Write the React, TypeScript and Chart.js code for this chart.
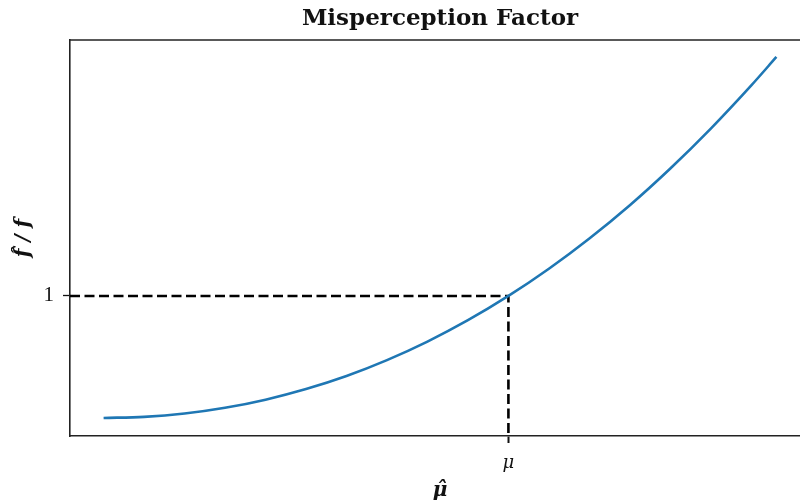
import React, { useEffect, useRef } from "react";
import { Chart, registerables } from "chart.js";

Chart.register(...registerables);

// μ̂ (relative to μ) and f̂/f
const muHat = [0, 0.1, 0.2, 0.3, 0.4, 0.5, 0.6, 0.7, 0.8, 0.9, 1, 1.1, 1.2, 1.3, 1.4, 1.5, 1.6, 1.662];
const ratio = [0, 0.009, 0.036, 0.083, 0.15, 0.237, 0.344, 0.474, 0.626, 0.801, 1, 1.223, 1.471, 1.744, 2.045, 2.372, 2.726, 2.959];

const xTickValues = [1];
const xTickLabels = ["μ"];
const yTickValues = [1];
const yTickLabels = ["1"];
const xLimits = [-0.083, 1.745];
const yLimits = [-0.148, 3.098];
const refPoint = { x: 1, y: 1 };

const titleText = "Misperception Factor";
const xTitle = "μ̂";
const yTitle = "f̂ / f";

const SERIF = "'DejaVu Serif', 'Liberation Serif', serif";

const topSpine = {
  id: "topSpine",
  afterDraw(chart: any) {
    const { ctx, chartArea } = chart;
    ctx.save();
    ctx.strokeStyle = "#222";
    ctx.lineWidth = 1.6;
    ctx.beginPath();
    ctx.moveTo(chartArea.left - 0.8, chartArea.top);
    ctx.lineTo(chartArea.right, chartArea.top);
    ctx.stroke();
    ctx.restore();
  },
};

export default function App() {
  const ref = useRef<HTMLCanvasElement | null>(null);

  useEffect(() => {
    if (!ref.current) return;
    const curve = muHat.map((x, i) => ({ x, y: ratio[i] }));
    const guide = [
      { x: xLimits[0], y: refPoint.y },
      { x: refPoint.x, y: refPoint.y },
      { x: refPoint.x, y: yLimits[0] },
    ];
    const chart = new Chart(ref.current, {
      type: "scatter",
      data: {
        datasets: [
          {
            data: curve,
            showLine: true,
            borderColor: "#1f77b4",
            borderWidth: 2.6,
            pointRadius: 0,
            cubicInterpolationMode: "monotone",
            fill: false,
          } as any,
          {
            data: guide,
            showLine: true,
            borderColor: "#000",
            borderWidth: 2.6,
            borderDash: [10, 4.5],
            pointRadius: 0,
            tension: 0,
            fill: false,
          } as any,
        ],
      },
      options: {
        responsive: false,
        animation: false,
        layout: { padding: { left: 0, right: 0, top: 0, bottom: 0 } },
        plugins: {
          legend: { display: false },
          tooltip: { enabled: false },
          title: {
            display: true,
            text: titleText,
            color: "#111",
            font: { family: SERIF, size: 23, weight: "bold" },
            padding: { top: 5, bottom: 7.4 },
          },
        },
        scales: {
          x: {
            type: "linear",
            min: xLimits[0],
            max: xLimits[1],
            afterFit: (s: any) => {
              s.height = 68;
            },
            afterBuildTicks: (s: any) => {
              s.ticks = xTickValues.map((v) => ({ value: v }));
            },
            ticks: {
              color: "#111",
              font: { family: SERIF, size: 18, style: "italic" },
              padding: 10,
              maxRotation: 0,
              callback: (v: any) => {
                const i = xTickValues.indexOf(Number(v));
                return i >= 0 ? xTickLabels[i] : "";
              },
            },
            grid: {
              display: true,
              drawOnChartArea: false,
              drawTicks: true,
              tickLength: 7,
              tickWidth: 2,
              tickColor: "#111",
            },
            border: { display: true, color: "#222", width: 1.6 },
            title: {
              display: true,
              text: xTitle,
              color: "#111",
              font: { family: SERIF, size: 20, weight: "bold", style: "italic" },
              padding: { top: 0, bottom: 1 },
            },
          },
          y: {
            type: "linear",
            min: yLimits[0],
            max: yLimits[1],
            afterFit: (s: any) => {
              s.width = 70;
            },
            afterBuildTicks: (s: any) => {
              s.ticks = yTickValues.map((v) => ({ value: v }));
            },
            ticks: {
              color: "#111",
              font: { family: "'Liberation Serif', serif", size: 21 },
              padding: 9,
              callback: (v: any) => {
                const i = yTickValues.indexOf(Number(v));
                return i >= 0 ? yTickLabels[i] : "";
              },
            },
            grid: {
              display: true,
              drawOnChartArea: false,
              drawTicks: true,
              tickLength: 7,
              tickWidth: 1.3,
              tickColor: "#111",
            },
            border: { display: true, color: "#222", width: 1.6 },
            title: {
              display: true,
              text: yTitle,
              color: "#111",
              font: { family: SERIF, size: 20, weight: "bold", style: "italic" },
              padding: { top: 12, bottom: 0 },
            },
          },
          yRight: {
            type: "linear",
            position: "right",
            display: true,
            min: yLimits[0],
            max: yLimits[1],
            afterFit: (s: any) => {
              s.width = 70;
            },
            ticks: { display: false },
            grid: { display: false, drawTicks: false },
            border: { display: false },
            title: { display: false },
          },
        },
      },
      plugins: [topSpine],
    });
    return () => chart.destroy();
  }, []);

  return (
    <div
      style={{
        position: "absolute",
        left: 0,
        top: 0,
        width: 800,
        height: 504,
        overflow: "hidden",
        background: "#fff",
      }}
    >
      <canvas ref={ref} width={880} height={504} style={{ width: 880, height: 504, display: "block" }} />
    </div>
  );
}
